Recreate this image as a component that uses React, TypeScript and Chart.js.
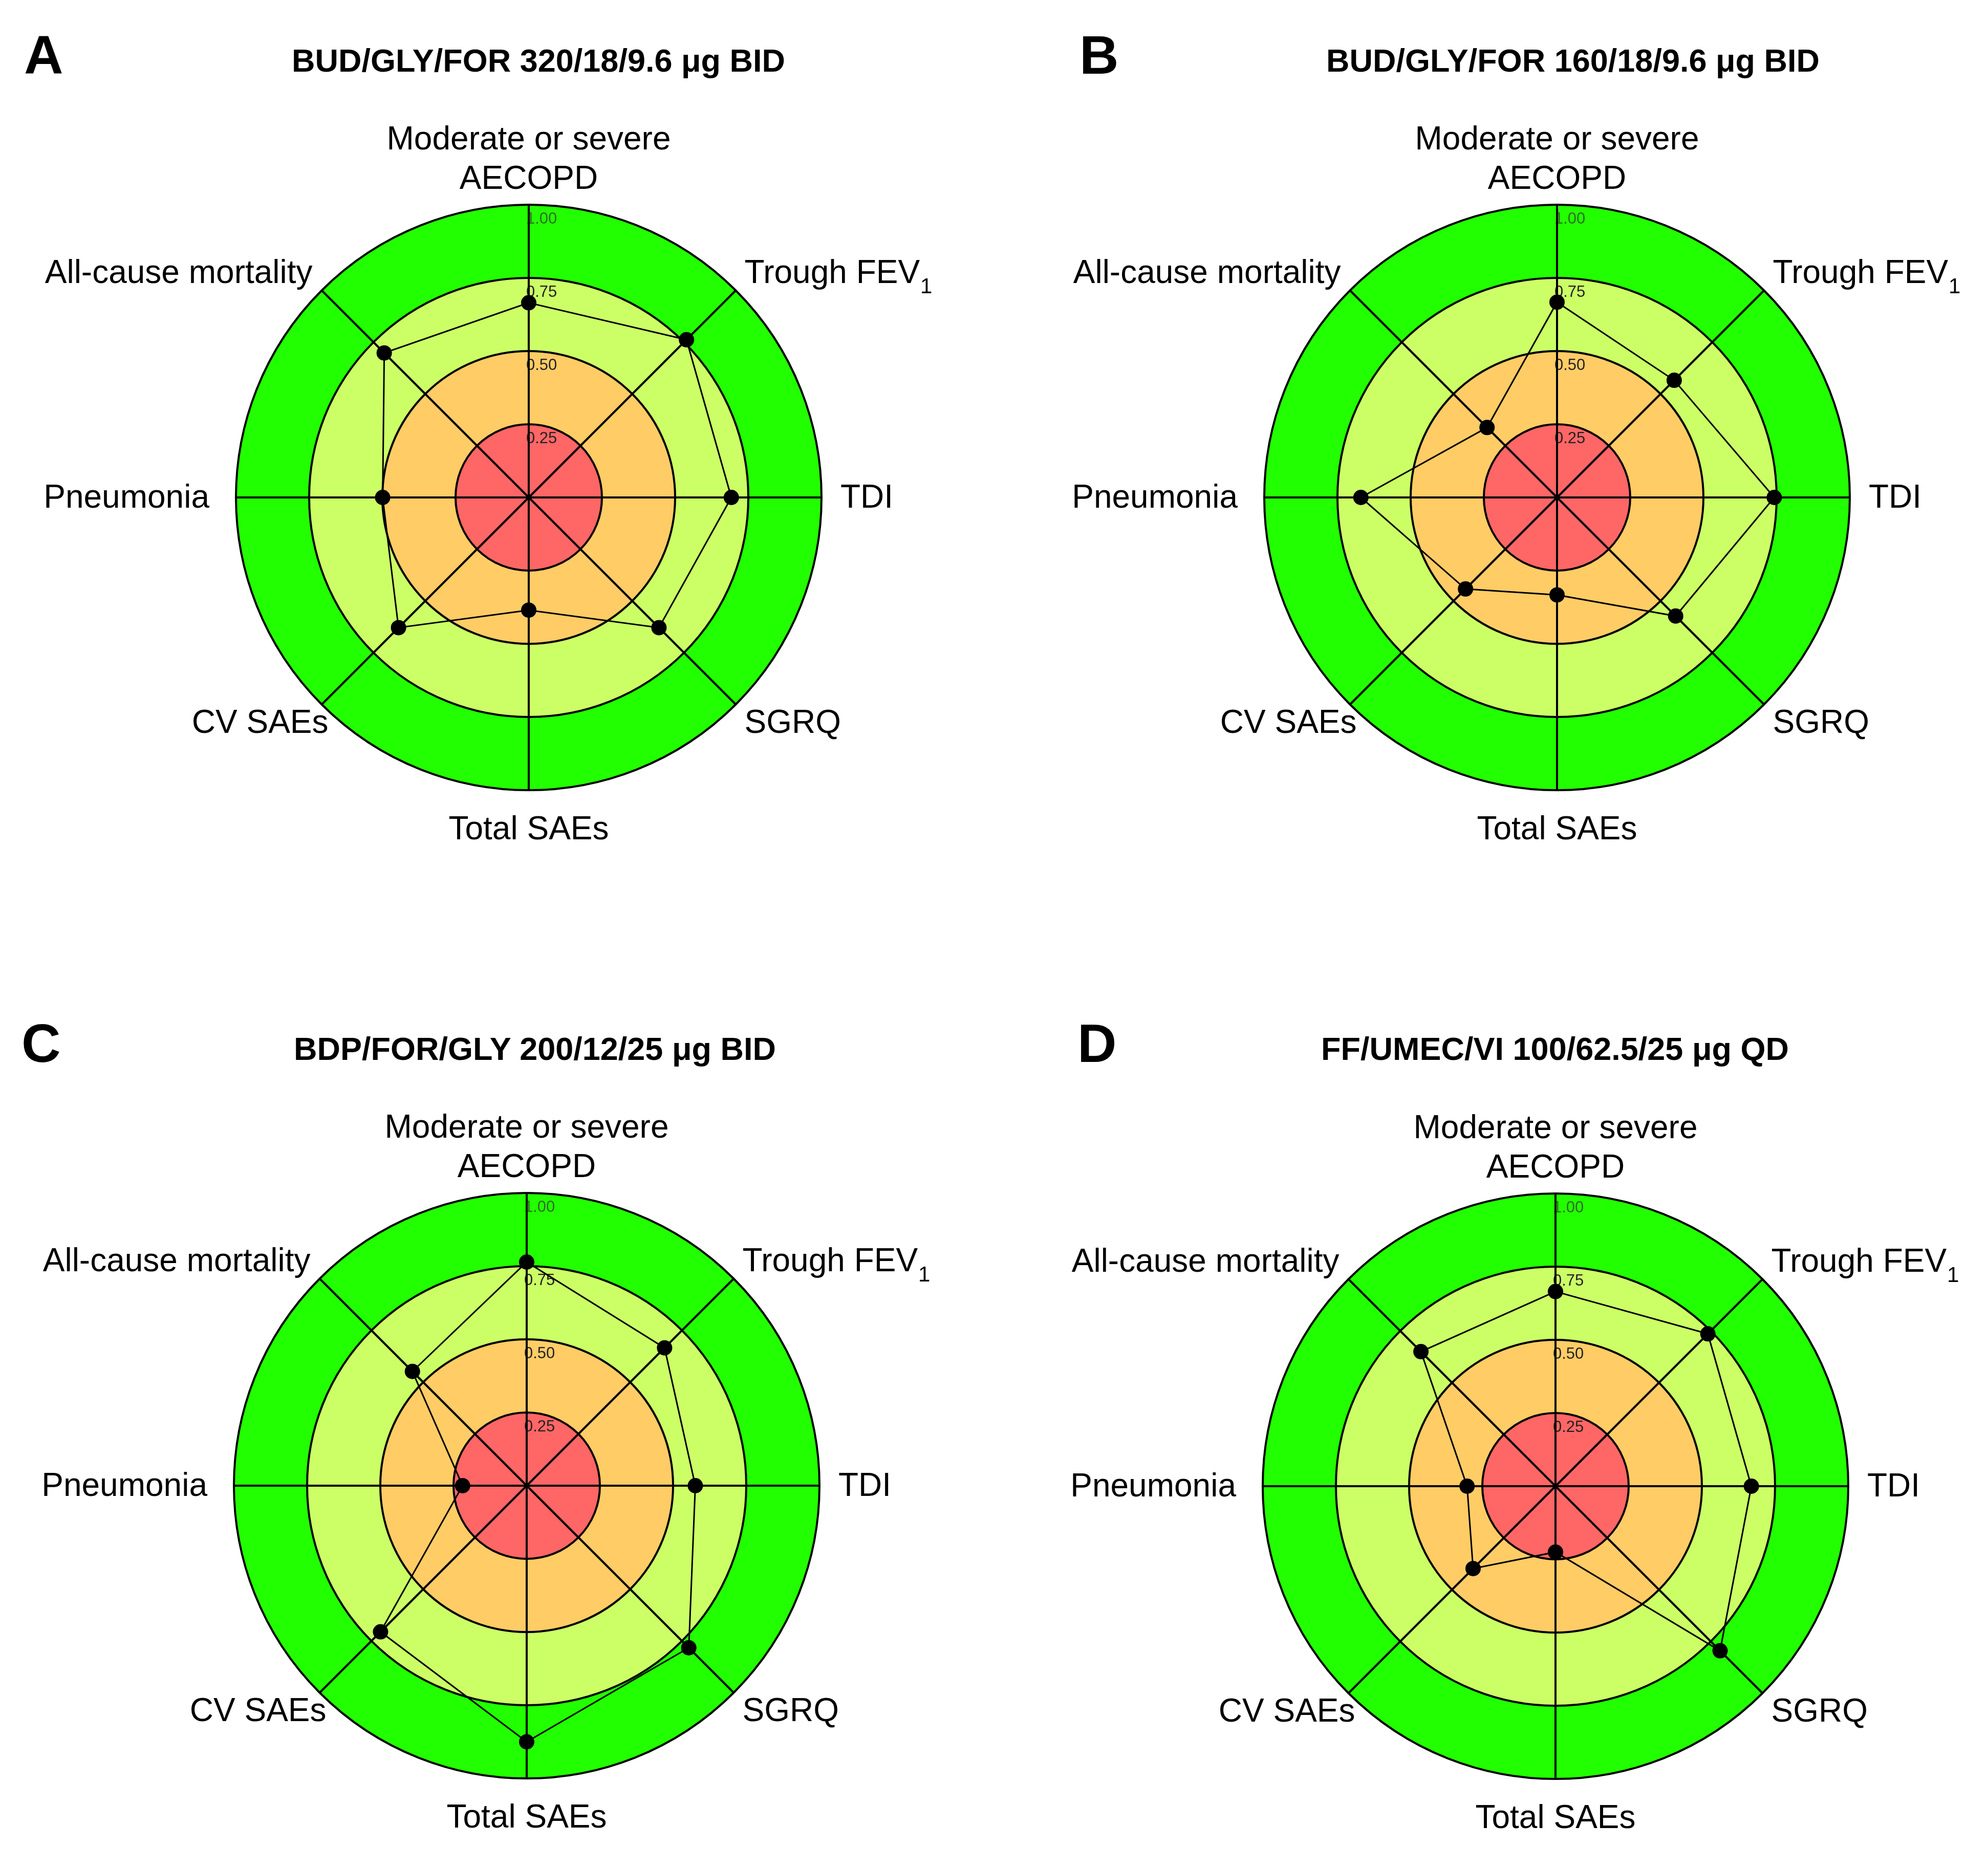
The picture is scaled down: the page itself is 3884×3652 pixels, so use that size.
import React, { useEffect, useRef } from "react";
import { Chart, registerables } from "chart.js";

Chart.register(...registerables);

// ---------- data ----------
const categories: (string | string[])[] = [
  ["Moderate or severe", "AECOPD"],
  "Trough FEV₁",
  "TDI",
  "SGRQ",
  "Total SAEs",
  "CV SAEs",
  "Pneumonia",
  "All-cause mortality",
];

const panelLetters = ["A", "B", "C", "D"];
const panelTitles = [
  "BUD/GLY/FOR 320/18/9.6 μg BID",
  "BUD/GLY/FOR 160/18/9.6 μg BID",
  "BDP/FOR/GLY 200/12/25 μg BID",
  "FF/UMEC/VI 100/62.5/25 μg QD",
];

const valuesA = [0.665, 0.762, 0.692, 0.629, 0.385, 0.629, 0.499, 0.698];
const valuesB = [0.667, 0.566, 0.742, 0.573, 0.333, 0.442, 0.67, 0.338];
const valuesC = [0.764, 0.666, 0.576, 0.783, 0.875, 0.706, 0.219, 0.552];
const valuesD = [0.665, 0.736, 0.669, 0.795, 0.225, 0.398, 0.302, 0.65];

const tickValues = [0.25, 0.5, 0.75, 1.0];
const tickLabels = ["0.25", "0.50", "0.75", "1.00"];
const bandColors = ["#FF6666", "#FFCC66", "#CCFF66", "#22FF00"];

// ---------- layout ----------
const FONT = '"Liberation Sans", Arial, Helvetica, sans-serif';
const RADIUS = 572;
const LABEL_SIZE = 64;

type PanelLayout = {
  left: number;
  top: number;
  width: number;
  height: number;
  cx: number;
  cy: number;
  titleX: number;
  titleBaseline: number;
  letterX: number;
};

const layouts: PanelLayout[] = [
  { left: 0, top: 0, width: 1942, height: 1931, cx: 1033, cy: 972, titleX: 1052, titleBaseline: 140, letterX: 47 },
  { left: 1942, top: 0, width: 1942, height: 1931, cx: 1100, cy: 972, titleX: 3073, titleBaseline: 140, letterX: 2109 },
  { left: 0, top: 1931, width: 1942, height: 1721, cx: 1029, cy: 972, titleX: 1045, titleBaseline: 2071, letterX: 42 },
  { left: 1942, top: 1931, width: 1942, height: 1721, cx: 1097, cy: 973, titleX: 3038, titleBaseline: 2071, letterX: 2105 },
];

const SUB_MAP: Record<string, string> = { "₀": "0", "₁": "1", "₂": "2", "₃": "3", "₄": "4", "₅": "5", "₆": "6", "₇": "7", "₈": "8", "₉": "9" };

function drawText(ctx: CanvasRenderingContext2D, text: string, x: number, y: number, align: "left" | "right" | "center") {
  const m = text.match(/^(.*?)([₀-₉]+)$/);
  const main = m ? m[1] : text;
  const sub = m ? m[2].split("").map((c) => SUB_MAP[c]).join("") : "";
  ctx.font = `${LABEL_SIZE}px ${FONT}`;
  const w1 = ctx.measureText(main).width;
  const subSize = Math.round(LABEL_SIZE * 0.66);
  ctx.font = `${subSize}px ${FONT}`;
  const w2 = sub ? ctx.measureText(sub).width : 0;
  const total = w1 + w2;
  let sx = x;
  if (align === "right") sx = x - total;
  else if (align === "center") sx = x - total / 2;
  ctx.textAlign = "left";
  ctx.textBaseline = "alphabetic";
  ctx.fillStyle = "#000";
  ctx.font = `${LABEL_SIZE}px ${FONT}`;
  ctx.fillText(main, sx, y);
  if (sub) {
    ctx.font = `${subSize}px ${FONT}`;
    ctx.fillText(sub, sx + w1 + 1, y + 20);
  }
}

const bandsPlugin = {
  id: "bands",
  beforeDraw(chart: any) {
    const s = chart.scales.r;
    const ctx: CanvasRenderingContext2D = chart.ctx;
    ctx.save();
    for (let i = tickValues.length - 1; i >= 0; i--) {
      const r = s.getDistanceFromCenterForValue(tickValues[i]);
      ctx.beginPath();
      ctx.arc(s.xCenter, s.yCenter, r, 0, Math.PI * 2);
      ctx.fillStyle = bandColors[i];
      ctx.fill();
    }
    ctx.font = `31px ${FONT}`;
    ctx.textAlign = "left";
    ctx.textBaseline = "alphabetic";
    tickValues.forEach((v, i) => {
      const r = s.getDistanceFromCenterForValue(v);
      ctx.fillStyle = i === tickValues.length - 1 ? "#2f6f22" : "#222";
      ctx.fillText(tickLabels[i], s.xCenter - 5, s.yCenter - r + 37);
    });
    ctx.restore();
  },
};

const labelsPlugin = {
  id: "axisLabels",
  afterDraw(chart: any) {
    const s = chart.scales.r;
    const ctx: CanvasRenderingContext2D = chart.ctx;
    const R = s.drawingArea;
    ctx.save();
    categories.forEach((lab, i) => {
      const p = s.getPointPosition(i, R);
      const lines = Array.isArray(lab) ? lab : [lab];
      let x = p.x;
      let y = p.y;
      let align: "left" | "right" | "center" = "center";
      switch (i) {
        case 0:
          y = p.y - 31;
          break;
        case 1:
          x = p.x + 17; y = p.y - 15; align = "left";
          break;
        case 2:
          x = p.x + 37; y = p.y + 20; align = "left";
          break;
        case 3:
          x = p.x + 17; y = p.y + 56; align = "left";
          break;
        case 4:
          y = p.y + 96;
          break;
        case 5:
          x = p.x + 13; y = p.y + 56; align = "right";
          break;
        case 6:
          x = p.x - 52; y = p.y + 20; align = "right";
          break;
        case 7:
          x = p.x - 18; y = p.y - 15; align = "right";
          break;
      }
      const lh = 77;
      lines.forEach((ln, k) => {
        drawText(ctx, ln, x, y - (lines.length - 1 - k) * lh, align);
      });
    });
    ctx.restore();
  },
};

function RadarPanel({ layout, values }: { layout: PanelLayout; values: number[] }) {
  const ref = useRef<HTMLCanvasElement>(null);
  useEffect(() => {
    const { width, height, cx, cy } = layout;
    const chart = new Chart(ref.current as HTMLCanvasElement, {
      type: "radar",
      data: {
        labels: categories as any,
        datasets: [
          {
            data: values,
            borderColor: "#000",
            borderWidth: 3,
            pointRadius: 15,
            pointBackgroundColor: "#000",
            pointBorderColor: "#000",
            pointBorderWidth: 0,
            fill: false,
            tension: 0,
          },
        ],
      },
      options: {
        animation: false,
        responsive: false,
        devicePixelRatio: 1,
        events: [],
        layout: {
          padding: {
            left: cx - RADIUS,
            right: width - cx - RADIUS,
            top: cy - RADIUS,
            bottom: height - cy - RADIUS,
          },
        },
        plugins: {
          legend: { display: false },
          tooltip: { enabled: false },
          title: { display: false },
        },
        scales: {
          r: {
            min: 0,
            max: 1,
            ticks: { display: false, stepSize: 0.25 },
            grid: { circular: true, color: "#000", lineWidth: 4 },
            angleLines: { display: true, color: "#000", lineWidth: 4 },
            pointLabels: { display: false },
          },
        },
      } as any,
      plugins: [bandsPlugin, labelsPlugin],
    });
    return () => chart.destroy();
  }, []);
  return (
    <canvas
      ref={ref}
      width={layout.width}
      height={layout.height}
      style={{ position: "absolute", left: layout.left, top: layout.top, width: layout.width, height: layout.height }}
    />
  );
}

export default function App() {
  useEffect(() => {
    document.body.style.margin = "0";
    document.body.style.overflow = "hidden";
    document.body.style.background = "#fff";
  }, []);
  const series = [valuesA, valuesB, valuesC, valuesD];
  const TITLE_SIZE = 63;
  const LETTER_SIZE = 106;
  return (
    <div style={{ position: "relative", width: 3884, height: 3652, background: "#fff", overflow: "hidden" }}>
      {layouts.map((l, i) => (
        <RadarPanel key={"c" + i} layout={l} values={series[i]} />
      ))}
      {layouts.map((l, i) => (
        <div
          key={"t" + i}
          style={{
            position: "absolute",
            left: l.titleX - 1000,
            width: 2000,
            textAlign: "center",
            top: l.titleBaseline - 0.8465 * TITLE_SIZE,
            fontFamily: FONT,
            fontWeight: "bold",
            fontSize: TITLE_SIZE,
            lineHeight: `${TITLE_SIZE}px`,
            whiteSpace: "nowrap",
            color: "#000",
          }}
        >
          {panelTitles[i]}
        </div>
      ))}
      {layouts.map((l, i) => (
        <div
          key={"l" + i}
          style={{
            position: "absolute",
            left: l.letterX,
            top: l.titleBaseline + 4 - 0.8465 * LETTER_SIZE,
            fontFamily: FONT,
            fontWeight: "bold",
            fontSize: LETTER_SIZE,
            lineHeight: `${LETTER_SIZE}px`,
            color: "#000",
          }}
        >
          {panelLetters[i]}
        </div>
      ))}
    </div>
  );
}
